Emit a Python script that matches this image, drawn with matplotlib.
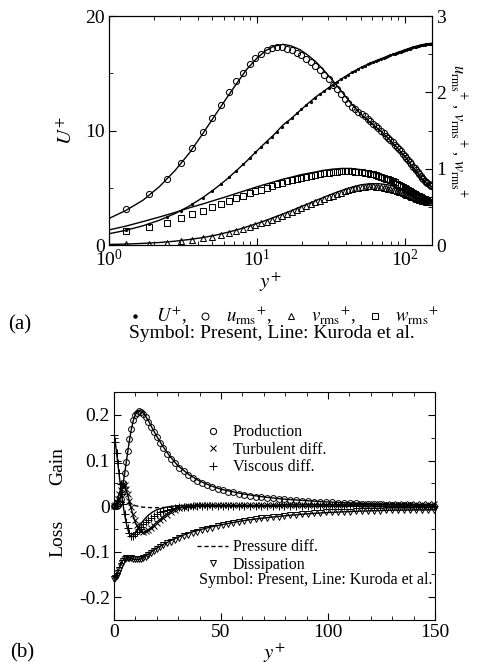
import matplotlib
matplotlib.use("Agg")
import matplotlib.pyplot as plt
import numpy as np
from matplotlib.lines import Line2D
from matplotlib.ticker import MultipleLocator, LogLocator, NullFormatter

plt.rcParams['font.family'] = ['Liberation Serif', 'DejaVu Serif']
plt.rcParams['mathtext.fontset'] = 'stix'
plt.rcParams['axes.unicode_minus'] = False
plt.rcParams['xtick.direction'] = 'in'
plt.rcParams['ytick.direction'] = 'in'

# ---- symbols (Present) : wall-normal grid points
yp = np.array([0.0, 0.6, 1.3, 1.85, 2.45,
               3.05, 3.65, 4.3, 5.0, 5.7,
               6.45, 7.2, 8.0, 8.9, 9.75,
               10.65, 11.6, 12.6, 13.7, 14.8,
               16.0, 17.2, 18.5, 19.9, 21.4,
               23.0, 24.7, 26.5, 28.4, 30.4,
               32.5, 34.6, 36.8, 39.0, 41.3,
               43.6, 46.0, 48.4, 50.8, 53.3,
               55.8, 58.3, 60.9, 63.5, 66.1,
               68.8, 71.5, 74.2, 76.9, 79.6,
               82.4, 85.2, 88.0, 90.8, 93.6,
               96.4, 99.2, 102.0, 104.8, 107.6,
               110.4, 113.2, 116.0, 118.8, 121.6,
               124.4, 127.2, 130.0, 132.8, 135.6,
               138.4, 141.2, 144.0, 146.8, 149.6])

U_sym = np.array([0, 0.6, 1.3, 1.84, 2.43,
                  3.01, 3.57, 4.16, 4.76, 5.34,
                  5.94, 6.5, 7.05, 7.62, 8.12,
                  8.6, 9.05, 9.48, 9.92, 10.34,
                  10.75, 11.12, 11.5, 11.86, 12.2,
                  12.53, 12.85, 13.16, 13.46, 13.75,
                  14.02, 14.27, 14.5, 14.71, 14.9,
                  15.08, 15.25, 15.4, 15.54, 15.67,
                  15.79, 15.9, 16.0, 16.1, 16.19,
                  16.28, 16.36, 16.44, 16.51, 16.58,
                  16.65, 16.72, 16.78, 16.84, 16.9,
                  16.96, 17.01, 17.06, 17.11, 17.16,
                  17.21, 17.26, 17.3, 17.34, 17.38,
                  17.41, 17.44, 17.47, 17.49, 17.51,
                  17.53, 17.54, 17.55, 17.56, 17.56])

urms_sym = np.array([0, 0.22, 0.47, 0.665, 0.87,
                     1.08, 1.275, 1.477, 1.66, 1.84,
                     2.01, 2.145, 2.26, 2.37, 2.45,
                     2.51, 2.555, 2.585, 2.6, 2.595,
                     2.575, 2.555, 2.52, 2.485, 2.44,
                     2.4, 2.35, 2.29, 2.23, 2.17,
                     2.1, 2.04, 1.98, 1.92, 1.865,
                     1.81, 1.78, 1.75, 1.72, 1.69,
                     1.655, 1.625, 1.59, 1.56, 1.53,
                     1.495, 1.465, 1.435, 1.405, 1.375,
                     1.345, 1.315, 1.285, 1.26, 1.23,
                     1.2, 1.17, 1.14, 1.115, 1.085,
                     1.06, 1.03, 1.005, 0.98, 0.955,
                     0.93, 0.91, 0.885, 0.865, 0.845,
                     0.83, 0.81, 0.795, 0.785, 0.775])

vrms_sym = np.array([0, 0.003, 0.013, 0.022, 0.035,
                     0.052, 0.07, 0.09, 0.11, 0.135,
                     0.16, 0.187, 0.213, 0.24, 0.265,
                     0.29, 0.31, 0.335, 0.36, 0.385,
                     0.41, 0.435, 0.46, 0.485, 0.51,
                     0.535, 0.56, 0.585, 0.61, 0.63,
                     0.65, 0.67, 0.69, 0.705, 0.72,
                     0.733, 0.745, 0.754, 0.761, 0.766,
                     0.769, 0.77, 0.769, 0.767, 0.764,
                     0.76, 0.755, 0.749, 0.742, 0.735,
                     0.727, 0.719, 0.71, 0.701, 0.692,
                     0.683, 0.673, 0.664, 0.654, 0.645,
                     0.636, 0.627, 0.618, 0.61, 0.602,
                     0.595, 0.589, 0.583, 0.578, 0.574,
                     0.571, 0.569, 0.568, 0.567, 0.567])

wrms_sym = np.array([0, 0.09, 0.18, 0.245, 0.295,
                     0.35, 0.405, 0.45, 0.498, 0.54,
                     0.58, 0.615, 0.648, 0.68, 0.706,
                     0.728, 0.75, 0.775, 0.795, 0.815,
                     0.835, 0.852, 0.868, 0.883, 0.897,
                     0.91, 0.922, 0.933, 0.943, 0.952,
                     0.959, 0.964, 0.968, 0.97, 0.97,
                     0.968, 0.965, 0.961, 0.956, 0.95,
                     0.943, 0.935, 0.926, 0.917, 0.907,
                     0.896, 0.885, 0.873, 0.861, 0.848,
                     0.835, 0.822, 0.808, 0.794, 0.78,
                     0.766, 0.752, 0.738, 0.724, 0.71,
                     0.697, 0.684, 0.672, 0.66, 0.649,
                     0.638, 0.628, 0.619, 0.611, 0.604,
                     0.598, 0.593, 0.589, 0.587, 0.586])

prod_sym = np.array([0, 0.0, 0.001, 0.003, 0.007,
                     0.015, 0.028, 0.05, 0.072, 0.097,
                     0.12, 0.148, 0.17, 0.188, 0.199,
                     0.205, 0.208, 0.207, 0.203, 0.195,
                     0.185, 0.174, 0.163, 0.151, 0.139,
                     0.127, 0.115, 0.104, 0.094, 0.084,
                     0.076, 0.068, 0.062, 0.056, 0.051,
                     0.046, 0.042, 0.038, 0.035, 0.032,
                     0.03, 0.027, 0.025, 0.023, 0.021,
                     0.02, 0.018, 0.017, 0.016, 0.015,
                     0.014, 0.013, 0.012, 0.011, 0.01,
                     0.0095, 0.009, 0.008, 0.0075, 0.007,
                     0.0065, 0.006, 0.0055, 0.005, 0.0045,
                     0.004, 0.0035, 0.003, 0.0025, 0.002,
                     0.0017, 0.0013, 0.001, 0.0005, 0.0])

turb_sym = np.array([0, 0.002, 0.008, 0.016, 0.026,
                     0.036, 0.044, 0.048, 0.046, 0.038,
                     0.026, 0.012, -0.003, -0.018, -0.03,
                     -0.041, -0.049, -0.054, -0.056, -0.055,
                     -0.052, -0.048, -0.043, -0.037, -0.031,
                     -0.025, -0.019, -0.014, -0.009, -0.005,
                     -0.002, 0.0, 0.001, 0.002, 0.002,
                     0.002, 0.002, 0.002, 0.002, 0.002,
                     0.002, 0.002, 0.0025, 0.0025, 0.0025,
                     0.0025, 0.0025, 0.003, 0.003, 0.003,
                     0.003, 0.003, 0.003, 0.003, 0.0035,
                     0.0035, 0.0035, 0.0035, 0.0035, 0.0035,
                     0.004, 0.004, 0.004, 0.004, 0.004,
                     0.004, 0.004, 0.004, 0.004, 0.004,
                     0.004, 0.004, 0.004, 0.004, 0.004])

visc_sym = np.array([0.157, 0.14, 0.117, 0.095, 0.072,
                     0.048, 0.026, 0.004, -0.017, -0.034,
                     -0.049, -0.06, -0.066, -0.066, -0.062,
                     -0.056, -0.05, -0.045, -0.04, -0.035,
                     -0.03, -0.025, -0.021, -0.017, -0.014,
                     -0.011, -0.008, -0.006, -0.004, -0.003,
                     -0.002, -0.001, 0.0, 0.0, 0.001,
                     0.001, 0.001, 0.001, 0.001, 0.001,
                     0.001, 0.001, 0.001, 0.001, 0.001,
                     0.0005, 0.0005, 0.0005, 0.0005, 0.0005,
                     0.0, 0.0, 0.0, 0.0, 0.0,
                     0.0, 0.0, 0.0, 0.0, 0.0,
                     0.0, 0.0, 0.0, 0.0, 0.0,
                     0.0, 0.0, 0.0, 0.0, 0.0,
                     0.0, 0.0, 0.0, 0.0, 0.0])

diss_sym = np.array([-0.16, -0.158, -0.153, -0.147, -0.14,
                     -0.132, -0.125, -0.12, -0.116, -0.114,
                     -0.113, -0.113, -0.114, -0.115, -0.116,
                     -0.117, -0.117, -0.116, -0.114, -0.111,
                     -0.107, -0.103, -0.099, -0.095, -0.09,
                     -0.086, -0.082, -0.078, -0.074, -0.07,
                     -0.066, -0.063, -0.059, -0.056, -0.053,
                     -0.05, -0.047, -0.044, -0.042, -0.039,
                     -0.037, -0.035, -0.033, -0.031, -0.029,
                     -0.027, -0.026, -0.024, -0.023, -0.021,
                     -0.02, -0.019, -0.018, -0.017, -0.016,
                     -0.015, -0.014, -0.013, -0.013, -0.012,
                     -0.012, -0.011, -0.011, -0.01, -0.01,
                     -0.01, -0.009, -0.009, -0.009, -0.009,
                     -0.008, -0.008, -0.008, -0.008, -0.008])

# ---- lines (Kuroda et al.)
yl_a = np.array([1, 1.3, 1.7, 2.2, 2.8,
                 3.5, 4.3, 5.2, 6.2, 7.3,
                 8.5, 10, 11.5, 13, 15,
                 17, 19.5, 22, 25, 28,
                 32, 37, 43, 50, 58,
                 67, 77, 88, 100, 112,
                 125, 137, 150])
U_line = [1.0, 1.3, 1.7, 2.19, 2.77,
          3.43, 4.16, 4.93, 5.72, 6.54,
          7.33, 8.24, 9.0, 9.64, 10.5,
          11.05, 11.75, 12.35, 12.95, 13.4,
          13.95, 14.5, 15.03, 15.5, 15.88,
          16.22, 16.52, 16.8, 17.06, 17.28,
          17.45, 17.56, 17.62]
urms_line = [0.35, 0.455, 0.59, 0.77, 0.98,
             1.21, 1.46, 1.7, 1.92, 2.12,
             2.3, 2.45, 2.55, 2.605, 2.63,
             2.61, 2.56, 2.49, 2.4, 2.3,
             2.17, 2.02, 1.86, 1.72, 1.61,
             1.51, 1.4, 1.28, 1.16, 1.03,
             0.91, 0.82, 0.77]
vrms_line = [0.01, 0.015, 0.024, 0.036, 0.053,
             0.075, 0.1, 0.13, 0.165, 0.2,
             0.24, 0.285, 0.325, 0.365, 0.41,
             0.45, 0.5, 0.54, 0.585, 0.625,
             0.67, 0.715, 0.755, 0.79, 0.805,
             0.805, 0.79, 0.76, 0.72, 0.68,
             0.635, 0.6, 0.585]
wrms_line = [0.2, 0.25, 0.31, 0.37, 0.43,
             0.49, 0.54, 0.59, 0.635, 0.68,
             0.72, 0.765, 0.8, 0.83, 0.865,
             0.89, 0.92, 0.94, 0.96, 0.98,
             0.995, 1.005, 1.005, 0.99, 0.965,
             0.93, 0.885, 0.835, 0.77, 0.71,
             0.65, 0.61, 0.595]

yl_b = [0, 1, 2, 3, 4,
        5, 6, 7, 8, 9,
        10, 11, 12, 13, 14,
        16, 18, 20, 23, 26,
        30, 35, 40, 45, 50,
        60, 70, 80, 90, 100,
        115, 130, 150]
prod_line = [0, 0.001, 0.005, 0.018, 0.042,
             0.072, 0.105, 0.138, 0.166, 0.188,
             0.201, 0.208, 0.21, 0.208, 0.203,
             0.188, 0.17, 0.153, 0.13, 0.11,
             0.088, 0.069, 0.055, 0.045, 0.037,
             0.027, 0.02, 0.015, 0.012, 0.009,
             0.006, 0.003, 0.0]
turb_line = [0, 0.006, 0.02, 0.036, 0.046,
             0.045, 0.032, 0.014, -0.005, -0.022,
             -0.036, -0.047, -0.054, -0.058, -0.058,
             -0.053, -0.044, -0.035, -0.023, -0.013,
             -0.005, 0.0, 0.002, 0.002, 0.002,
             0.002, 0.002, 0.003, 0.003, 0.003,
             0.003, 0.004, 0.004]
visc_line = [0.163, 0.125, 0.085, 0.045, 0.01,
             -0.02, -0.043, -0.06, -0.068, -0.066,
             -0.059, -0.051, -0.043, -0.036, -0.03,
             -0.02, -0.013, -0.008, -0.004, -0.001,
             0.001, 0.002, 0.002, 0.002, 0.001,
             0.001, 0.001, 0.0, 0.0, 0.0,
             0.0, 0.0, 0.0]
pres_line = [0.011, 0.011, 0.0105, 0.01, 0.009,
             0.008, 0.007, 0.0055, 0.004, 0.0025,
             0.001, 0.0, -0.001, -0.002, -0.0025,
             -0.003, -0.0035, -0.0035, -0.003, -0.0025,
             -0.0015, -0.0008, -0.0003, 0.0, 0.0,
             0.0, 0.0, 0.0, 0.0, 0.0,
             0.0, 0.0, 0.0]
diss_line = [-0.163, -0.155, -0.142, -0.129, -0.12,
             -0.115, -0.113, -0.113, -0.114, -0.116,
             -0.117, -0.117, -0.116, -0.114, -0.111,
             -0.105, -0.098, -0.092, -0.084, -0.077,
             -0.068, -0.059, -0.052, -0.046, -0.041,
             -0.032, -0.026, -0.021, -0.017, -0.014,
             -0.011, -0.009, -0.008]

lab_u = r"$u_{\mathrm{rms}}{}^{+}$"
lab_v = r"$v_{\mathrm{rms}}{}^{+}$"
lab_w = r"$w_{\mathrm{rms}}{}^{+}$"

fig = plt.figure(figsize=(4.8, 6.7), dpi=100)

# ================= (a) =================
ax = fig.add_axes([0.227, 0.634, 0.673, 0.342])
ax2 = ax.twinx()
vis = yp > 0

ax.plot(yl_a, U_line, 'k-', lw=1.0)
ax.plot(yp[vis], U_sym[vis], 'o', color='k', ms=2.3, mew=0)
ax2.plot(yl_a, urms_line, 'k-', lw=1.0)
ax2.plot(yl_a, vrms_line, 'k-', lw=1.0)
ax2.plot(yl_a, wrms_line, 'k-', lw=1.0)
mk = dict(ls='none', mfc='none', mec='k', mew=0.75, ms=4.4)
ax2.plot(yp[vis], urms_sym[vis], marker='o', **mk)
ax2.plot(yp[vis], vrms_sym[vis], marker='^', **mk)
ax2.plot(yp[vis], wrms_sym[vis], marker='s', **dict(mk, ms=4.1))

ax.set_xscale('log')
ax.set_xlim(1, 152)
ax.set_ylim(0, 20)
ax2.set_ylim(0, 3)
ax.yaxis.set_major_locator(MultipleLocator(10))
ax.yaxis.set_minor_locator(MultipleLocator(5))
ax2.yaxis.set_major_locator(MultipleLocator(1))
ax2.yaxis.set_minor_locator(MultipleLocator(0.5))
ax.xaxis.set_minor_locator(LogLocator(base=10, subs=np.arange(2, 10)))
ax.xaxis.set_minor_formatter(NullFormatter())
ax.tick_params(which='both', top=True, right=False, labelsize=14, pad=3)
ax.tick_params(which='major', length=5, width=0.8)
ax.tick_params(which='minor', length=3, width=0.6)
ax2.tick_params(which='both', labelsize=14, pad=3)
ax2.tick_params(which='major', length=5, width=0.8)
ax2.tick_params(which='minor', length=3, width=0.6)
for a in (ax, ax2):
    for s in a.spines.values():
        s.set_linewidth(0.8)

ax.set_xlabel(r"$y^{+}$", fontsize=15, labelpad=0)
ax.set_ylabel(r"$U^{+}$", fontsize=15, labelpad=6)
ax2.set_ylabel(lab_u + " , " + lab_v + " , " + lab_w, fontsize=12,
               rotation=270, labelpad=16)

hd = [Line2D([], [], marker='o', ls='none', color='k', ms=3.2, mew=0),
      Line2D([], [], marker='o', ls='none', mfc='none', mec='k', mew=0.75, ms=5),
      Line2D([], [], marker='^', ls='none', mfc='none', mec='k', mew=0.75, ms=5),
      Line2D([], [], marker='s', ls='none', mfc='none', mec='k', mew=0.75, ms=4.5)]
fig.legend(hd, [r"$U^{+}$,", lab_u + ",", lab_v + ",", lab_w],
           loc='center', bbox_to_anchor=(0.592, 1 - 316 / 670), ncol=4,
           frameon=False, fontsize=13.5, handlelength=0.6, handletextpad=0.8,
           columnspacing=0.7, borderpad=0)
fig.text(272 / 480, 1 - 334 / 670, "Symbol: Present, Line: Kuroda et al.",
         fontsize=14, ha='center', va='center')
fig.text(20 / 480, 1 - 325 / 670, "(a)", fontsize=15, ha='center', va='center')

# ================= (b) =================
bx = fig.add_axes([0.2375, 0.0746, 0.669, 0.340])
bx.plot(yl_b, prod_line, 'k-', lw=1.0)
bx.plot(yl_b, turb_line, 'k-', lw=1.0)
bx.plot(yl_b, visc_line, 'k-', lw=1.0)
bx.plot(yl_b, diss_line, 'k-', lw=1.0)
bx.plot(yl_b, pres_line, 'k--', lw=1.0, dashes=(3, 2))
mb = dict(ls='none', mfc='none', mec='k', mew=0.7, ms=4.2, clip_on=False)
bx.plot(yp, prod_sym, marker='o', **mb)
bx.plot(yp, turb_sym, marker='x', **dict(mb, ms=4.6))
bx.plot(yp, visc_sym, marker='+', **dict(mb, ms=5.6))
bx.plot(yp, diss_sym, marker='v', **mb)

bx.set_xlim(0, 150)
bx.set_ylim(-0.25, 0.25)
bx.xaxis.set_major_locator(MultipleLocator(50))
bx.xaxis.set_minor_locator(MultipleLocator(10))
bx.yaxis.set_major_locator(MultipleLocator(0.1))
bx.yaxis.set_minor_locator(MultipleLocator(0.05))
bx.yaxis.set_major_formatter(plt.FuncFormatter(lambda v, p: "0" if abs(v) < 1e-9 else f"{v:.1f}"))
bx.tick_params(which='both', top=True, right=True, labelsize=14, pad=3)
bx.tick_params(which='major', length=5, width=0.8)
bx.tick_params(which='minor', length=3, width=0.6)
for s in bx.spines.values():
    s.set_linewidth(0.8)
bx.set_xlabel(r"$y^{+}$", fontsize=15, labelpad=0)
fig.text(58 / 480, 1 - 466 / 670, "Gain", fontsize=14, rotation=90, ha='center', va='center')
fig.text(58 / 480, 1 - 538 / 670, "Loss", fontsize=14, rotation=90, ha='center', va='center')

h_prod = Line2D([], [], marker='o', ls='none', mfc='none', mec='k', mew=0.75, ms=4.5)
h_turb = Line2D([], [], marker='x', ls='none', color='k', mew=0.75, ms=5)
h_visc = Line2D([], [], marker='+', ls='none', color='k', mew=0.75, ms=6)
h_pres = Line2D([], [], ls='--', color='k', lw=1.0, dashes=(3, 2))
h_diss = Line2D([], [], marker='v', ls='none', mfc='none', mec='k', mew=0.75, ms=4.5)
leg1 = bx.legend([h_prod, h_turb, h_visc], ["Production", "Turbulent diff.", "Viscous diff."],
                 loc='upper left', bbox_to_anchor=(0.26, 0.86), frameon=False,
                 fontsize=11.5, handlelength=1.9, handletextpad=0.3, labelspacing=0.1,
                 borderpad=0, borderaxespad=0)
bx.add_artist(leg1)
bx.legend([h_pres, h_diss], ["Pressure diff.", "Dissipation"],
          loc='upper left', bbox_to_anchor=(0.26, 0.355), frameon=False,
          fontsize=11.5, handlelength=1.9, handletextpad=0.3, labelspacing=0.1,
          borderpad=0, borderaxespad=0)
bx.text(0.265, 0.175, "Symbol: Present, Line: Kuroda et al.", transform=bx.transAxes,
        fontsize=11.5, ha='left', va='center')
fig.text(22 / 480, 1 - 653 / 670, "(b)", fontsize=15, ha='center', va='center')

fig.savefig("out.png", dpi=100)
